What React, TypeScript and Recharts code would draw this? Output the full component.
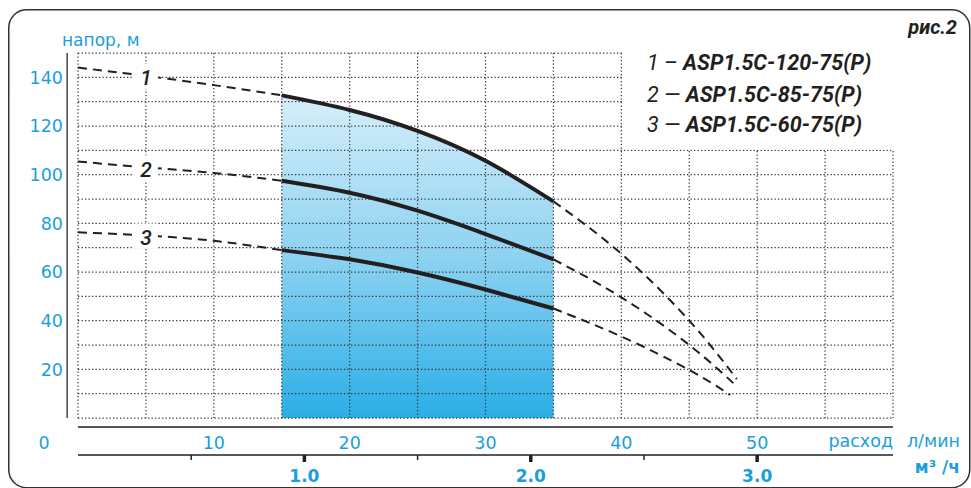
import { ComposedChart, Area, Line, XAxis, YAxis, CartesianGrid, ReferenceArea, ReferenceLine } from 'recharts';

// flow, l/min
const flowStart = [0, 5, 10, 15];
const flowWork = [15, 20, 25, 30, 35];
const flowTail12 = [35, 40, 45, 48.5];
const flowTail3 = [35, 40, 45, 48];

// head, m
const head1Start = [144, 140.6, 136.8, 132.6];
const head1Work = [132.6, 126.6, 118, 105.7, 89];
const head1Tail = [89, 67.5, 40, 16];

const head2Start = [105.4, 103, 100.7, 97.5];
const head2Work = [97.5, 92.6, 85.2, 75.6, 65.2];
const head2Tail = [65.2, 49.6, 30, 13];

const head3Start = [76.3, 75, 72.8, 69];
const head3Work = [69, 65.2, 59.8, 52.8, 45];
const head3Tail = [45, 33.5, 19.7, 9.5];

const headTicks = [20, 40, 60, 80, 100, 120, 140];
const headGrid = [0, 10, 20, 30, 40, 50, 60, 70, 80, 90, 100, 110, 120, 130, 140, 150];
const flowTicks = [10, 20, 30, 40, 50];
const flowGrid = [0, 5, 10, 15, 20, 25, 30, 35, 40, 45, 50, 55, 60];
const m3Ticks = [0.5, 1.0, 1.5, 2.0, 2.5, 3.0];

const models = ['1 – ASP1.5C-120-75(P)', '2 — ASP1.5C-85-75(P)', '3 — ASP1.5C-60-75(P)'];

const blue = '#1b9ede';
const ink = '#231f20';
const font = 'Roboto, sans-serif';
const labelFont = '"DejaVu Sans", sans-serif';

const pts = (xs: number[], ys: number[]) => xs.map((q, i) => ({ q, h: ys[i] }));

function CurveTag(props: any) {
  const { x, y, index, tag } = props;
  if (index !== 1) return null;
  return (
    <g>
      <rect x={x - 12} y={y - 12} width={24} height={25} fill="#fff" />
      <text x={x} y={y + 2} dy="0.36em" textAnchor="middle" fontFamily={font} fontSize={21} fontStyle="italic" fontWeight={500} fill={ink}>
        {tag}
      </text>
    </g>
  );
}

function M3Tick(props: any) {
  const { x, y, payload } = props;
  const v = Math.round((payload.value * 60) / 100) / 10;
  const major = Number.isInteger(v);
  return (
    <g>
      <line x1={x} x2={x} y1={y} y2={y + (major ? 7 : 5)} stroke={ink} strokeWidth={major ? 3.5 : 1.5} />
      {major && (
        <text x={x} y={y + 27} textAnchor="middle" fontFamily={labelFont} fontSize={17} fontWeight={700} fill={blue}>
          {v.toFixed(1)}
        </text>
      )}
    </g>
  );
}

export default function App() {
  const dashed = { stroke: ink, strokeWidth: 2, strokeDasharray: '9 6', dot: false, isAnimationActive: false, type: 'natural' as const };
  const solid = { stroke: ink, strokeWidth: 4, dot: false, isAnimationActive: false, type: 'natural' as const };
  const ghost = { stroke: 'none', dot: false, activeDot: false, isAnimationActive: false, legendType: 'none' as const };
  return (
    <div style={{ position: 'relative', width: 971, height: 488, fontFamily: font }}>
      <style>{'body{margin:0}'}</style>
      <ComposedChart width={971} height={488} margin={{ top: 53, right: 78, bottom: 0, left: 0 }}>
        <defs>
          <linearGradient id="workFill" x1="0" y1="0" x2="0" y2="1">
            <stop offset="0%" stopColor="#d6effa" />
            <stop offset="50%" stopColor="#8dd2f1" />
            <stop offset="100%" stopColor="#2aaee6" />
          </linearGradient>
        </defs>
        <XAxis xAxisId="a_q" dataKey="q" type="number" domain={[0, 60]} ticks={flowGrid} interval={0} height={9} tick={() => <g />} axisLine={false} tickLine={false} />
        <XAxis
          xAxisId="b_lmin"
          dataKey="q"
          type="number"
          domain={[0, 60]}
          ticks={flowTicks}
          interval={0}
          height={28}
          axisLine={{ stroke: ink, strokeWidth: 1.5 }}
          tickLine={false}
          tickSize={6}
          tickMargin={4}
          tick={{ fill: blue, fontSize: 17.5, fontFamily: labelFont }}
        />
        <XAxis
          xAxisId="c_m3"
          dataKey="q"
          type="number"
          domain={[0, 60]}
          ticks={m3Ticks.map((v) => (v * 1000) / 60)}
          interval={0}
          height={33}
          axisLine={{ stroke: ink, strokeWidth: 1.5 }}
          tickLine={false}
          tickSize={0}
          tickMargin={0}
          tick={(p: any) => <M3Tick {...p} />}
        />
        <YAxis
          type="number"
          domain={[0, 150]}
          ticks={headTicks}
          interval={0}
          width={78}
          axisLine={false}
          tickLine={false}
          tickSize={6}
          tickMargin={9}
          tick={{ fill: blue, fontSize: 17.5, fontFamily: labelFont }}
        />
        <Area xAxisId="a_q" data={pts(flowWork, head1Work)} dataKey="h" type="natural" stroke="none" fill="url(#workFill)" fillOpacity={1} baseValue={0} isAnimationActive={false} zIndex={-150} />
        <CartesianGrid
          xAxisId="a_q"
          horizontalValues={headGrid}
          verticalValues={flowGrid}
          stroke="#363636"
          strokeWidth={1.25}
          strokeDasharray="1.3 2.2"
        />
        <ReferenceArea xAxisId="a_q" x1={40.15} x2={61} y1={110.3} y2={152} ifOverflow="visible" fill="#fff" fillOpacity={1} stroke="none" zIndex={-50} />
        <ReferenceLine xAxisId="a_q" x={-0.8} ifOverflow="visible" stroke="#444" strokeWidth={1.5} />

        <Line xAxisId="b_lmin" data={pts(flowWork, head1Work)} dataKey="h" {...ghost} />
        <Line xAxisId="c_m3" data={pts(flowWork, head1Work)} dataKey="h" {...ghost} />

        <Line xAxisId="a_q" data={pts(flowStart, head1Start)} dataKey="h" {...dashed} label={(p: any) => <CurveTag {...p} tag="1" />} />
        <Line xAxisId="a_q" data={pts(flowWork, head1Work)} dataKey="h" {...solid} />
        <Line xAxisId="a_q" data={pts(flowTail12, head1Tail)} dataKey="h" {...dashed} />

        <Line xAxisId="a_q" data={pts(flowStart, head2Start)} dataKey="h" {...dashed} label={(p: any) => <CurveTag {...p} tag="2" />} />
        <Line xAxisId="a_q" data={pts(flowWork, head2Work)} dataKey="h" {...solid} />
        <Line xAxisId="a_q" data={pts(flowTail12, head2Tail)} dataKey="h" {...dashed} />

        <Line xAxisId="a_q" data={pts(flowStart, head3Start)} dataKey="h" {...dashed} label={(p: any) => <CurveTag {...p} tag="3" />} />
        <Line xAxisId="a_q" data={pts(flowWork, head3Work)} dataKey="h" {...solid} />
        <Line xAxisId="a_q" data={pts(flowTail3, head3Tail)} dataKey="h" {...dashed} />
      </ComposedChart>

      <svg width={971} height={488} style={{ position: 'absolute', left: 0, top: 0, pointerEvents: 'none' }}>
        <rect x={8.75} y={9.75} width={961} height={478} rx={18} fill="none" stroke="#333" strokeWidth={1.5} />
        <text x={62} y={46} fontFamily={labelFont} fontSize={17} fill={blue}>напор, м</text>
        <text x={957} y={34} textAnchor="end" fontFamily={font} fontSize={20} fontStyle="italic" fontWeight={700} fill={ink}>рис.2</text>
        {models.map((m, i) => {
          const sep = m.indexOf('ASP');
          return (
            <text key={m} x={647} y={[70, 102, 132][i]} fontFamily={font} fontSize={21.5} fontStyle="italic" fill={ink}>
              <tspan fontWeight={400}>{m.slice(0, sep)}</tspan>
              <tspan fontWeight={700}>{m.slice(sep)}</tspan>
            </text>
          );
        })}
        <text x={44} y={449} textAnchor="middle" fontFamily={labelFont} fontSize={17.5} fill={blue}>0</text>
        <text x={893} y={447} textAnchor="end" fontFamily={labelFont} fontSize={17.5} fill={blue}>расход</text>
        <text x={960} y={447} textAnchor="end" fontFamily={labelFont} fontSize={17.5} fill={blue}>л/мин</text>
        <text x={960} y={473} textAnchor="end" fontFamily={labelFont} fontSize={17} fontWeight={700} fill={blue}>
          м³ /ч
        </text>
      </svg>
    </div>
  );
}
